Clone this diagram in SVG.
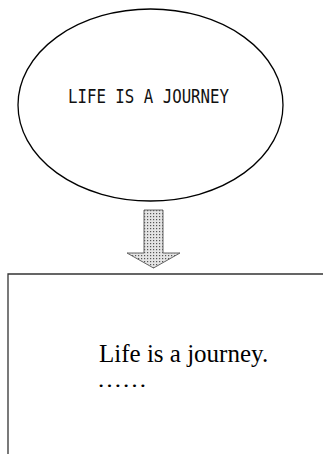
<svg xmlns="http://www.w3.org/2000/svg" width="323" height="454" viewBox="0 0 323 454">
<style>
.shape{fill:#fff;stroke:#000;stroke-width:1.3}
.box{fill:none;stroke:#333;stroke-width:1.3}
.mono{font-family:"DejaVu Sans Mono","Liberation Mono",monospace;font-size:16px;fill:#111}
.serif{font-family:"Liberation Serif","Times New Roman",serif;font-size:25px;fill:#000}
.dots{font-family:"Liberation Serif","Times New Roman",serif;font-size:21px;fill:#000}
</style>
<defs>
<pattern id="stip" width="3" height="3" patternUnits="userSpaceOnUse">
<rect width="3" height="3" fill="#e4e4e4"/>
<rect x="0" y="0" width="1.2" height="1.2" fill="#555"/>
</pattern>
</defs>
<rect width="323" height="454" fill="#fff"/>
<g id="node-ellipse">
<ellipse class="shape" cx="150.5" cy="105" rx="132.5" ry="96"/>
<g transform="translate(68,103) scale(1,1.2)">
<text class="mono" x="0" y="0" textLength="161" lengthAdjust="spacingAndGlyphs">LIFE IS A JOURNEY</text>
</g>
</g>
<g id="connectors">
<path d="M144,210 L163,210 L163,253 L180,253 L153.5,268 L127,253 L144,253 Z" fill="url(#stip)" stroke="#666" stroke-width="1"/>
</g>
<g id="node-box">
<path class="box" d="M323,274 L8,274 L8,454"/>
<text class="serif" x="99" y="362">Life is a journey.</text>
<text class="dots" x="97" y="387" textLength="50" lengthAdjust="spacingAndGlyphs">……</text>
</g>
</svg>
